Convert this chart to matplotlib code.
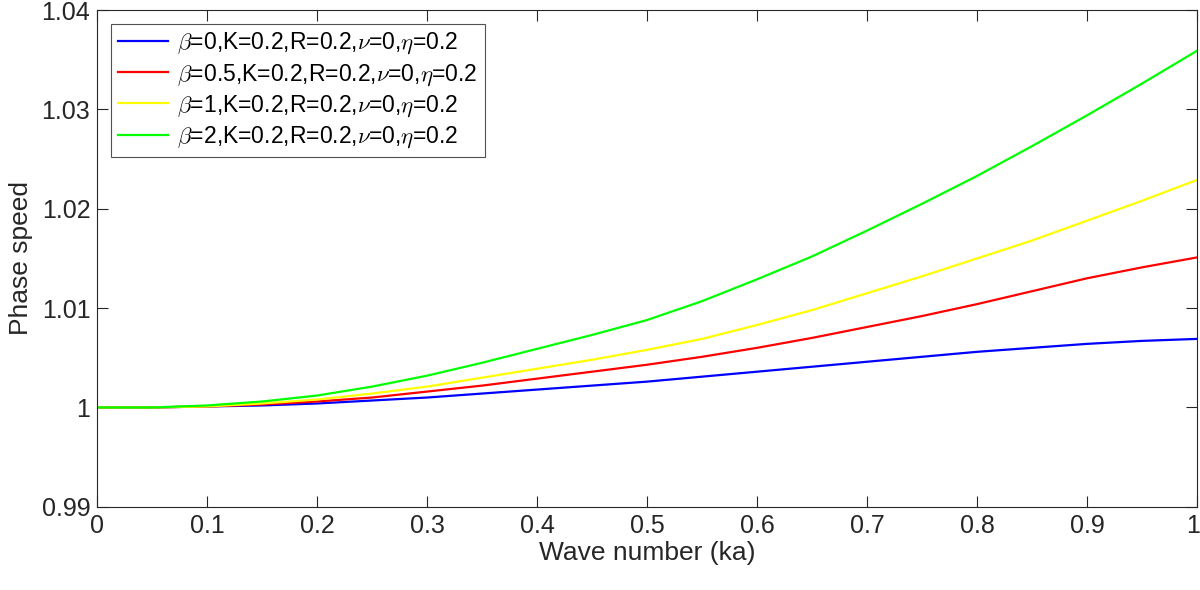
import numpy as np
import matplotlib.pyplot as plt
import matplotlib.transforms as mtransforms

plt.rcParams['font.family'] = ['Liberation Sans', 'DejaVu Sans']
plt.rcParams['mathtext.fontset'] = 'cm'

# wave number (ka)
ka = [0.0, 0.05, 0.1, 0.15, 0.2, 0.25, 0.3, 0.35, 0.4, 0.45, 0.5,
      0.55, 0.6, 0.65, 0.7, 0.75, 0.8, 0.85, 0.9, 0.95, 1.0]

# phase speed
beta0 = [1.0, 1.0000, 1.0001, 1.0002, 1.0004, 1.0007, 1.0010, 1.0014, 1.0018, 1.0022, 1.0026,
         1.0031, 1.0036, 1.0041, 1.0046, 1.0051, 1.0056, 1.0060, 1.0064, 1.0067, 1.0069]
beta05 = [1.0, 1.0000, 1.0001, 1.0003, 1.0006, 1.0010, 1.0016, 1.0022, 1.0029, 1.0036, 1.0043,
          1.0051, 1.0060, 1.0070, 1.0081, 1.0092, 1.0104, 1.0117, 1.0130, 1.0141, 1.0151]
beta1 = [1.0, 1.0000, 1.0001, 1.0004, 1.0008, 1.0014, 1.0021, 1.0030, 1.0039, 1.0048, 1.0058,
         1.0069, 1.0083, 1.0098, 1.0115, 1.0132, 1.0150, 1.0168, 1.0188, 1.0208, 1.0229]
beta2 = [1.0, 1.0000, 1.0002, 1.0006, 1.0012, 1.0021, 1.0032, 1.0045, 1.0059, 1.0073, 1.0088,
         1.0107, 1.0129, 1.0152, 1.0178, 1.0205, 1.0233, 1.0263, 1.0294, 1.0326, 1.0359]

labels = [r'$\beta$=0,K=0.2,R=0.2,$\nu$=0,$\eta$=0.2',
          r'$\beta$=0.5,K=0.2,R=0.2,$\nu$=0,$\eta$=0.2',
          r'$\beta$=1,K=0.2,R=0.2,$\nu$=0,$\eta$=0.2',
          r'$\beta$=2,K=0.2,R=0.2,$\nu$=0,$\eta$=0.2']
colors = ['#0000ff', '#ff0000', '#ffff00', '#00ff00']

fig = plt.figure(figsize=(12, 5.9), dpi=100)
ax = fig.add_axes([0.081, 0.141, 0.9165, 0.842])

for ys, lab, c in zip([beta0, beta05, beta1, beta2], labels, colors):
    ax.plot(ka, ys, color=c, lw=1.6, label=lab)

ax.set_xlim(0, 1)
ax.set_ylim(0.99, 1.04)
ax.set_xticks(np.arange(0, 1.01, 0.1))
ax.set_xticklabels(['0', '0.1', '0.2', '0.3', '0.4', '0.5', '0.6', '0.7', '0.8', '0.9', '1'])
ax.set_yticks([0.99, 1.0, 1.01, 1.02, 1.03, 1.04])
ax.set_yticklabels(['0.99', '1', '1.01', '1.02', '1.03', '1.04'])

axc = '#262626'
for s in ax.spines.values():
    s.set_color(axc)
    s.set_linewidth(0.8)
ax.tick_params(direction='in', length=8, width=0.8, colors=axc, labelsize=18,
               top=True, right=True, pad=5)

# keep the last x tick label inside the figure
last = ax.get_xticklabels()[-1]
last.set_transform(last.get_transform() +
                   mtransforms.ScaledTranslation(-4 / 100, 0, fig.dpi_scale_trans))

ax.set_xlabel('Wave number (ka)', fontsize=19, color=axc, labelpad=2)
ax.set_ylabel('Phase speed', fontsize=19, color=axc, labelpad=6)

leg = ax.legend(loc='upper left', fontsize=16.5, frameon=True, fancybox=False,
                edgecolor='#262626', handlelength=2.2, handletextpad=0.4,
                borderpad=0.3, labelspacing=0.25, borderaxespad=0.6)
leg.get_frame().set_linewidth(0.8)

fig.savefig('out.png', dpi=100)
